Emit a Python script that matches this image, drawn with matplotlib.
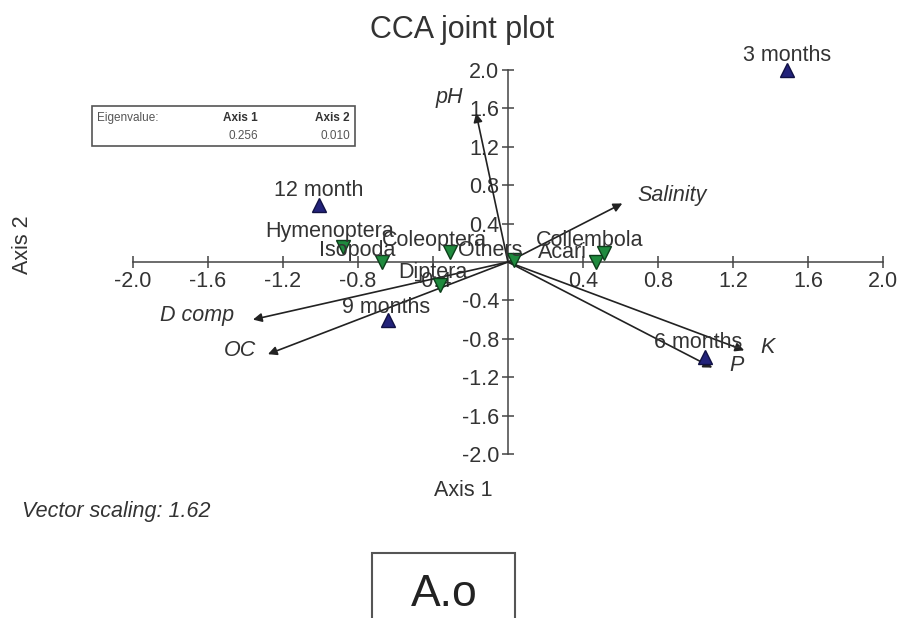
import numpy as np
import matplotlib
matplotlib.use("Agg")
import matplotlib.pyplot as plt
from matplotlib.patches import Rectangle

plt.rcParams['font.family'] = ['Liberation Sans', 'DejaVu Sans']

# ---- data ----
sites = ["3 months", "12 month", "9 months", "6 months"]
site_x = [1.49, -1.01, -0.64, 1.05]
site_y = [2.00, 0.59, -0.60, -0.99]

species = ["Hymenoptera", "Isopoda", "Coleoptera", "Others", "Acari", "Collembola", "Diptera"]
spec_x = [-0.88, -0.67, -0.31, 0.03, 0.47, 0.51, -0.36]
spec_y = [0.16, 0.00, 0.10, 0.02, 0.00, 0.09, -0.24]

env = ["pH", "Salinity", "D comp", "OC", "K", "P"]
env_x = [-0.17, 0.61, -1.36, -1.28, 1.26, 1.09]
env_y = [1.55, 0.61, -0.60, -0.96, -0.92, -1.10]

eigen_axes = ["Axis 1", "Axis 2"]
eigen_vals = [0.256, 0.010]
vector_scaling = 1.62
tick_vals = [-2.0, -1.6, -1.2, -0.8, -0.4, 0.4, 0.8, 1.2, 1.6, 2.0]

W, H = 906, 618
txt = '#333333'

fig = plt.figure(figsize=(W / 100, H / 100), dpi=100)
ax = fig.add_axes([0, 0, 1, 1])
ax.set_xlim(-2.709, 2.123)
ax.set_ylim(-3.708, 2.729)

# axes crossing at origin
for s in ['top', 'right']:
    ax.spines[s].set_visible(False)
ax.spines['left'].set_position('zero')
ax.spines['bottom'].set_position('zero')
ax.spines['left'].set_bounds(-2, 2)
ax.spines['bottom'].set_bounds(-2, 2)
for s in ['left', 'bottom']:
    ax.spines[s].set_color('#444444')
    ax.spines[s].set_linewidth(1.1)
ax.set_xticks(tick_vals)
ax.set_yticks(tick_vals)
ax.set_xticklabels([f"{v:.1f}" for v in tick_vals])
ax.set_yticklabels([f"{v:.1f}" for v in tick_vals])
ax.tick_params(direction='inout', length=9, width=1.1, color='#444444',
               labelsize=15.5, labelcolor=txt, pad=2)

# environmental vectors
env_off = {"pH": (-27, 16), "Salinity": (50, 8), "D comp": (-56, 4),
           "OC": (-28, 4), "K": (23, 3), "P": (24, 2)}
for name, x, y in zip(env, env_x, env_y):
    ax.annotate("", xy=(x, y), xytext=(0, 0),
                arrowprops=dict(arrowstyle='-|>', color='#222222', lw=1.2,
                                mutation_scale=13, shrinkA=0, shrinkB=0))
    ax.annotate(name, (x, y), xytext=env_off[name], textcoords='offset pixels',
                ha='center', va='center', fontsize=15.5, style='italic', color=txt)

# species (down triangles)
ax.plot(spec_x, spec_y, linestyle='none', marker='v', ms=10,
        color='#1f8a3e', markeredgecolor='#0c3d1a', zorder=4)
spec_off = {"Hymenoptera": (-13, 15), "Isopoda": (-25, 12), "Coleoptera": (-15, 12),
            "Others": (-23, 10), "Acari": (-34, 10), "Collembola": (-14, 13),
            "Diptera": (-8, 13)}
for name, x, y in zip(species, spec_x, spec_y):
    ax.annotate(name, (x, y), xytext=spec_off[name], textcoords='offset pixels',
                ha='center', va='center', fontsize=15.5, color=txt, zorder=5)

# sites (up triangles)
ax.plot(site_x, site_y, linestyle='none', marker='^', ms=10,
        color='#23237a', markeredgecolor='#111144', zorder=4)
site_off = {"3 months": (0, 14), "12 month": (0, 15), "9 months": (-2, 12),
            "6 months": (-7, 15)}
for name, x, y in zip(sites, site_x, site_y):
    ax.annotate(name, (x, y), xytext=site_off[name], textcoords='offset pixels',
                ha='center', va='center', fontsize=15.5, color=txt, zorder=5)

# titles and side texts
fig.text(462 / W, 1 - 30 / H, "CCA joint plot", ha='center', va='center',
         fontsize=22, color=txt)
fig.text(22 / W, 1 - 245 / H, "Axis 2", ha='center', va='center', rotation=90,
         fontsize=15.5, color=txt)
fig.text(463 / W, 1 - 490 / H, "Axis 1", ha='center', va='center',
         fontsize=15.5, color=txt)
fig.text(22 / W, 1 - 511 / H, f"Vector scaling: {vector_scaling:.2f}", ha='left',
         va='center', fontsize=15.5, style='italic', color=txt)

# eigenvalue box
fig.add_artist(Rectangle((92 / W, 1 - 146 / H), (355 - 92) / W, 40 / H,
                         transform=fig.transFigure, fill=False,
                         edgecolor='#555555', lw=1.2))
fig.text(97 / W, 1 - 118 / H, "Eigenvalue:", ha='left', va='center',
         fontsize=8.5, color='#555555')
for lab, val, xr in zip(eigen_axes, eigen_vals, [258, 350]):
    fig.text(xr / W, 1 - 118 / H, lab, ha='right', va='center', fontsize=8.5,
             fontweight='bold', color='#333333')
    fig.text(xr / W, 1 - 136 / H, f"{val:.3f}", ha='right', va='center',
             fontsize=8.5, color='#555555')

# panel tag (box runs off the bottom edge, as in the original)
fig.add_artist(Rectangle((372 / W, -0.05), (515 - 372) / W, 0.05 + (H - 553) / H,
                         transform=fig.transFigure, fill=False,
                         edgecolor='#555555', lw=1.5))
fig.text(444 / W, 1 - 594 / H, "A.o", ha='center', va='center',
         fontsize=32, color='#222222')

fig.savefig("out.png", dpi=100)
